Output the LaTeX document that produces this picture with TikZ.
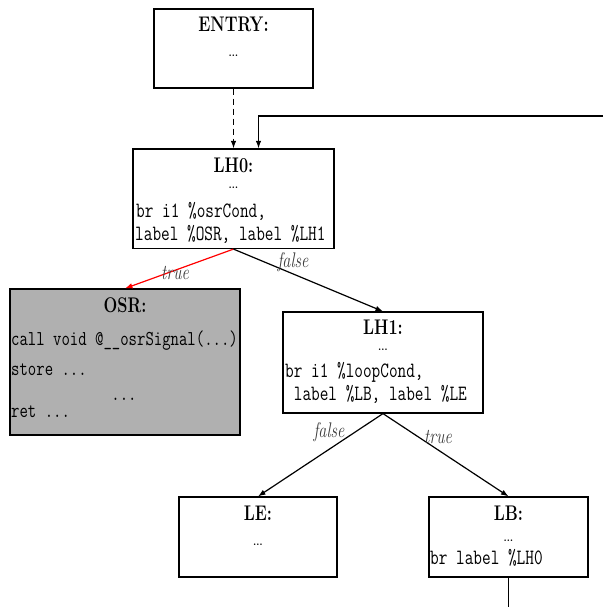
\documentclass[tikz,border=0pt]{standalone}
\usetikzlibrary{arrows.meta}
\definecolor{osrgray}{RGB}{176,176,176}
\definecolor{lblgray}{RGB}{60,60,60}
\newcommand\vstr[1]{\scalebox{1}[1.3]{#1}}
\begin{document}
\begin{tikzpicture}[x=1pt,y=-1pt,
  blk/.style={draw=black,line width=1.2pt,inner sep=0pt,rectangle},
  ttl/.style={anchor=base,inner sep=0pt,font=\fontsize{16.3}{20}\selectfont\bfseries},
  dts/.style={anchor=base,inner sep=0pt,text height=2pt,text depth=0pt,font=\fontsize{19}{20}\selectfont},
  code/.style={anchor=base west,inner sep=0pt,font=\fontsize{16.8}{20}\selectfont\ttfamily},
  osrcode/.style={code,font=\fontsize{16.3}{20}\selectfont\ttfamily},
  lbl/.style={inner sep=0pt,text=lblgray,font=\fontsize{16.3}{20}\selectfont\itshape},
  arr/.style={line width=1.2pt,-{Latex[length=7.5pt,width=5.5pt]}},
  edge/.style={line width=1.2pt}
]
\useasboundingbox (0,0) rectangle (603,607);

% boxes
\node[blk,minimum width=159pt,minimum height=79pt] (entry) at (233.5,48.5) {};
\node[blk,minimum width=201pt,minimum height=99.5pt] (lh0) at (233.5,198.75) {};
\node[blk,fill=osrgray,minimum width=230pt,minimum height=146pt] (osr) at (125,362) {};
\node[blk,minimum width=200pt,minimum height=101pt] (lh1) at (383,362.5) {};
\node[blk,minimum width=158pt,minimum height=80pt] (le) at (258,537) {};
\node[blk,minimum width=159pt,minimum height=80pt] (lb) at (508.5,537) {};

% ENTRY
\node[ttl] (entryT) at (233.5,32) {\vstr{ENTRY:}};
\node[dts] (entryD) at (233.5,57) {\ldots};

% LH0
\node[ttl] (lh0T) at (233.5,172) {\vstr{LH0:}};
\node[dts] (lh0D) at (233.5,188) {\ldots};
\node[code] (lh0A) at (136,217) {\vstr{br i1 \%osrCond,}};
\node[code] (lh0B) at (135,240) {\vstr{label \%OSR, label \%LH1}};

% OSR
\node[ttl] (osrT) at (125,312) {\vstr{OSR:}};
\node[osrcode] (osrA) at (11,345) {\vstr{call void @\_\_osrSignal(...)}};
\node[osrcode] (osrB) at (11,375) {\vstr{store ...}};
\node[osrcode,anchor=base] (osrC) at (124,400) {\vstr{...}};
\node[osrcode] (osrD) at (11,417) {\vstr{ret ...}};

% LH1
\node[ttl] (lh1T) at (383,334) {\vstr{LH1:}};
\node[dts] (lh1D) at (383,350) {\ldots};
\node[code] (lh1A) at (285,377) {\vstr{br i1 \%loopCond,}};
\node[code] (lh1B) at (285,400) {\vstr{\ label \%LB, label \%LE}};

% LE
\node[ttl] (leT) at (258,520) {\vstr{LE:}};
\node[dts] (leD) at (258,545) {\ldots};

% LB
\node[ttl] (lbT) at (508.5,520) {\vstr{LB:}};
\node[dts] (lbD) at (508.5,541) {\ldots};
\node[code] (lbA) at (430,564) {\vstr{br label \%LH0}};

% connectors
\coordinate (backin) at (603,116);
\coordinate (lbout) at (508.5,607);
\draw[arr,dashed,dash pattern=on 6pt off 4pt] (entry.south) -- (lh0.north);
\draw[arr] (backin) -| ([xshift=25pt]lh0.north);
\draw[arr,red] (lh0.south) -- (osr.north);
\draw[arr] (lh0.south) -- (lh1.north);
\draw[arr] (lh1.south) -- (le.north);
\draw[arr] (lh1.south) -- (lb.north);
\draw[edge] (lb.south) -- (lbout);

% labels
\node[lbl] (l1) at (175,273) {\vstr{true}};
\node[lbl] (l2) at (293,262) {\vstr{false}};
\node[lbl] (l3) at (329,432) {\vstr{false}};
\node[lbl] (l4) at (438,437) {\vstr{true}};
\end{tikzpicture}
\end{document}
